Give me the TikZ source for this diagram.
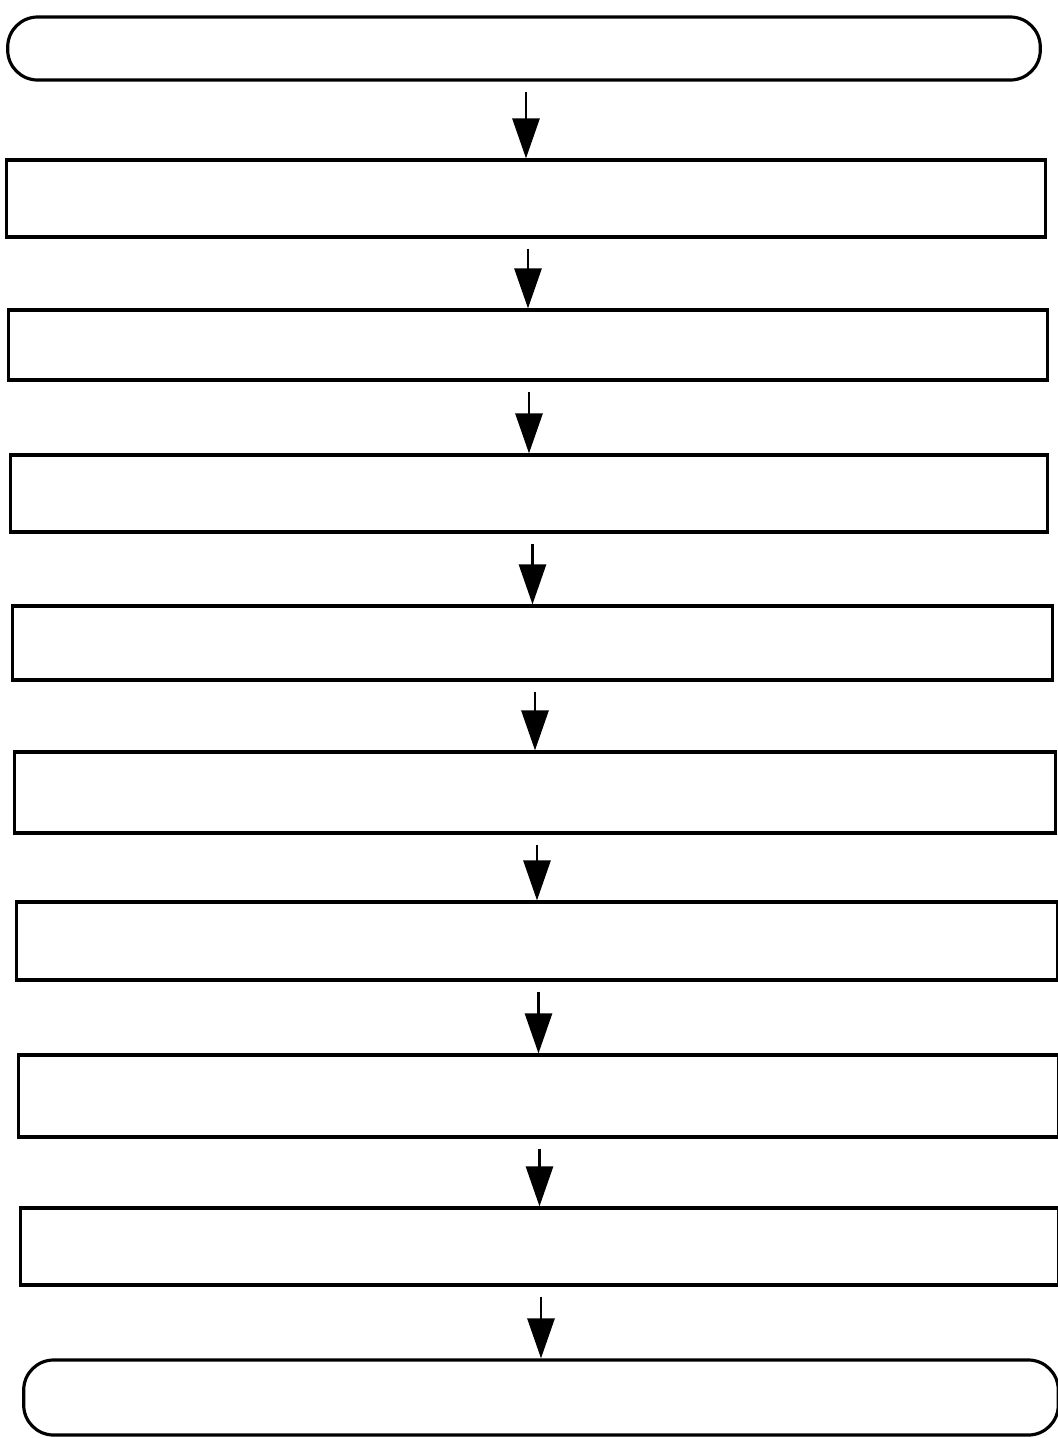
\documentclass[tikz,border=0pt]{standalone}
\usepackage{tikz}
\usetikzlibrary{arrows.meta, positioning}

\begin{document}
\begin{tikzpicture}[x=0.01cm, y=-0.01cm,
    stepbox/.style={draw, line width=0.9pt, inner sep=0pt},
    termbox/.style={stepbox, rounded corners=0.3cm},
    flow/.style={-{Triangle[length=0.4cm, width=0.27cm]}, line width=0.8pt, shorten <=0.1cm}]
        \useasboundingbox (0,0) rectangle (1058,1438);
        % Start and end terminals
        \node[termbox, minimum width=10.32cm, minimum height=0.63cm] (start) at (524,48.5) {};
        \node[termbox, minimum width=10.34cm, minimum height=0.75cm] (finish) at (541,1397.5) {};
        % Process steps
        \foreach \nm/\cx/\cy/\bw/\bh in {s1/526/198.5/10.38/0.77, s2/528/345/10.38/0.70,
            s3/529/493.5/10.36/0.77, s4/532.5/643/10.39/0.74, s5/535/792.5/10.40/0.81,
            s6/537/941/10.40/0.78, s7/538.5/1096/10.39/0.82, s8/539.5/1246.5/10.37/0.77}
            \node[stepbox, minimum width=\bw cm, minimum height=\bh cm] (\nm) at (\cx,\cy) {};
        % Connectors (kept vertical)
        \draw[flow] (start.south -| s1.north) -- (s1.north);
        \foreach \a/\b in {s1/s2, s2/s3, s3/s4, s4/s5, s5/s6, s6/s7, s7/s8}
            \draw[flow] (\a.south -| \b.north) -- (\b.north);
        \draw[flow] (s8.south -| finish.north) -- (finish.north);
    \end{tikzpicture}
\end{document}
